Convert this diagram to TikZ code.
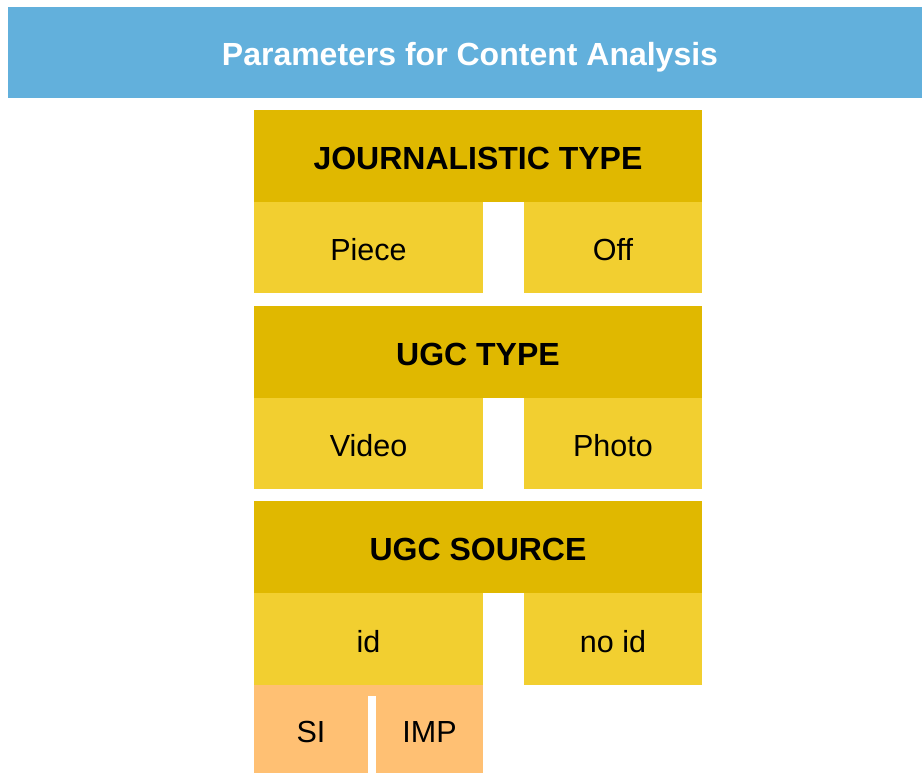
\documentclass[tikz,border=0pt]{standalone}
\usepackage{fontspec}
\setmainfont{Liberation Sans}
\definecolor{bannerblue}{HTML}{62B0DC}
\definecolor{headyellow}{HTML}{E0B800}
\definecolor{subyellow}{HTML}{F2CF30}
\definecolor{suborange}{HTML}{FFC073}
\begin{document}
\begin{tikzpicture}[x=1pt,y=-1pt,
  box/.style={inner sep=0pt, outer sep=0pt, anchor=north west, text height=26pt, text depth=0pt},
  banner/.style={box, fill=bannerblue, text=white, font=\fontsize{32}{36}\selectfont\bfseries},
  headbox/.style={box, fill=headyellow, text=black, font=\fontsize{32}{36}\selectfont\bfseries},
  subbox/.style={box, fill=subyellow, text=black, font=\fontsize{30.5}{34}\selectfont},
  orabox/.style={box, fill=suborange, text=black, font=\fontsize{30.5}{34}\selectfont}]
\useasboundingbox (0,0) rectangle (922,774);
\node[banner, minimum width=914pt, minimum height=91pt] (title) at (8,7) {\hspace{10pt}Parameters for Content Analysis};
% Journalistic type
\node[headbox, minimum width=448pt, minimum height=92pt] (jt) at (254,110) {JOURNALISTIC TYPE};
\node[subbox, minimum width=229pt, minimum height=91pt] (piece) at (254,202) {Piece};
\node[subbox, minimum width=178pt, minimum height=91pt] (off) at (524,202) {Off};
% UGC type
\node[headbox, minimum width=448pt, minimum height=92pt] (ut) at (254,306) {UGC TYPE};
\node[subbox, minimum width=229pt, minimum height=91pt] (video) at (254,398) {Video};
\node[subbox, minimum width=178pt, minimum height=91pt] (photo) at (524,398) {Photo};
% UGC source
\node[headbox, minimum width=448pt, minimum height=92pt] (us) at (254,501) {UGC SOURCE};
\node[subbox, minimum width=229pt, minimum height=92pt] (id) at (254,593) {id};
\node[subbox, minimum width=178pt, minimum height=92pt] (noid) at (524,593) {no id};
% Orange
\node[box, fill=suborange, text height=0pt, minimum width=229pt, minimum height=11pt] (strip) at (254,685) {};
\node[orabox, minimum width=114pt, minimum height=88pt] (si) at (254,685) {SI};
\node[orabox, minimum width=107pt, minimum height=88pt] (imp) at (376,685) {IMP};
\end{tikzpicture}
\end{document}
